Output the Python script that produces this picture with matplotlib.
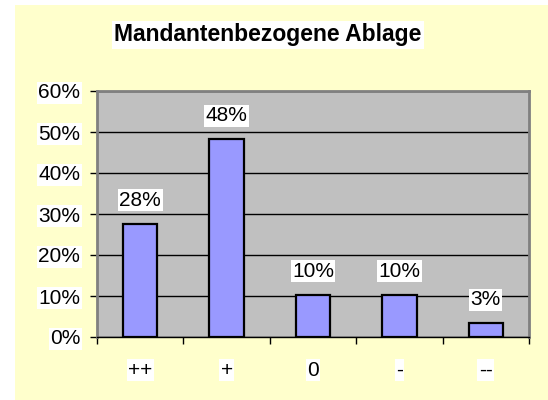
import matplotlib
matplotlib.use("Agg")
import matplotlib.pyplot as plt
import numpy as np

categories = ["++", "+", "0", "-", "--"]
values = [0.276, 0.483, 0.103, 0.103, 0.034]
labels = ["28%", "48%", "10%", "10%", "3%"]
yticks = [0, 0.1, 0.2, 0.3, 0.4, 0.5, 0.6]
ytick_labels = ["0%", "10%", "20%", "30%", "40%", "50%", "60%"]

plt.rcParams['font.family'] = ['Liberation Sans', 'DejaVu Sans']

fig = plt.figure(figsize=(5.48, 4.0), dpi=100)
fig.patch.set_facecolor('white')
bg = fig.add_axes([15/548, 0, 1 - 15/548, 1 - 5/400], zorder=-10)
bg.set_facecolor('#FFFFCC')
bg.set_xticks([]); bg.set_yticks([])
for s in bg.spines.values():
    s.set_visible(False)

ax = fig.add_axes([97/548, 1 - 337/400, (529 - 97)/548, (337 - 91)/400], zorder=1)
ax.set_facecolor('#C0C0C0')
x = np.arange(len(categories))
ax.bar(x, values, width=0.4, color='#9999FF', edgecolor='black', linewidth=1.6, zorder=3)
ax.set_xlim(-0.5, len(categories) - 0.5)
ax.set_ylim(0, 0.6)
ax.set_yticks(yticks)
ax.set_yticklabels(ytick_labels)
ax.yaxis.grid(True, color='black', linewidth=1.0, zorder=1)
ax.set_axisbelow(True)
ax.set_xticks(x)
ax.set_xticklabels(categories)
ax.set_xticks(np.arange(len(categories) + 1) - 0.5, minor=True)
ax.tick_params(axis='x', which='major', length=0, pad=17, labelsize=15)
ax.tick_params(axis='x', which='minor', length=5, width=1.0, color='black', direction='out')
ax.tick_params(axis='y', length=5, width=1.0, color='black', pad=7, labelsize=15)
for lab in ax.get_xticklabels() + ax.get_yticklabels():
    lab.set_bbox(dict(facecolor='white', edgecolor='none', pad=1))
for s in ['top', 'right', 'left']:
    ax.spines[s].set_color('#808080')
    ax.spines[s].set_linewidth(2)
ax.spines['bottom'].set_color('black')
ax.spines['bottom'].set_linewidth(1.0)

for xi, v, l in zip(x, values, labels):
    ax.annotate(l, (xi, v), xytext=(0, 10), textcoords='offset points',
                ha='center', va='bottom', fontsize=15, zorder=5,
                bbox=dict(facecolor='white', edgecolor='none', pad=1))

fig.text(268/548, 1 - 35/400, "Mandantenbezogene Ablage", ha='center', va='center',
         fontsize=16.5, fontweight='bold',
         bbox=dict(facecolor='white', edgecolor='none', pad=2))

fig.savefig("out.png", dpi=100, facecolor=fig.get_facecolor())
